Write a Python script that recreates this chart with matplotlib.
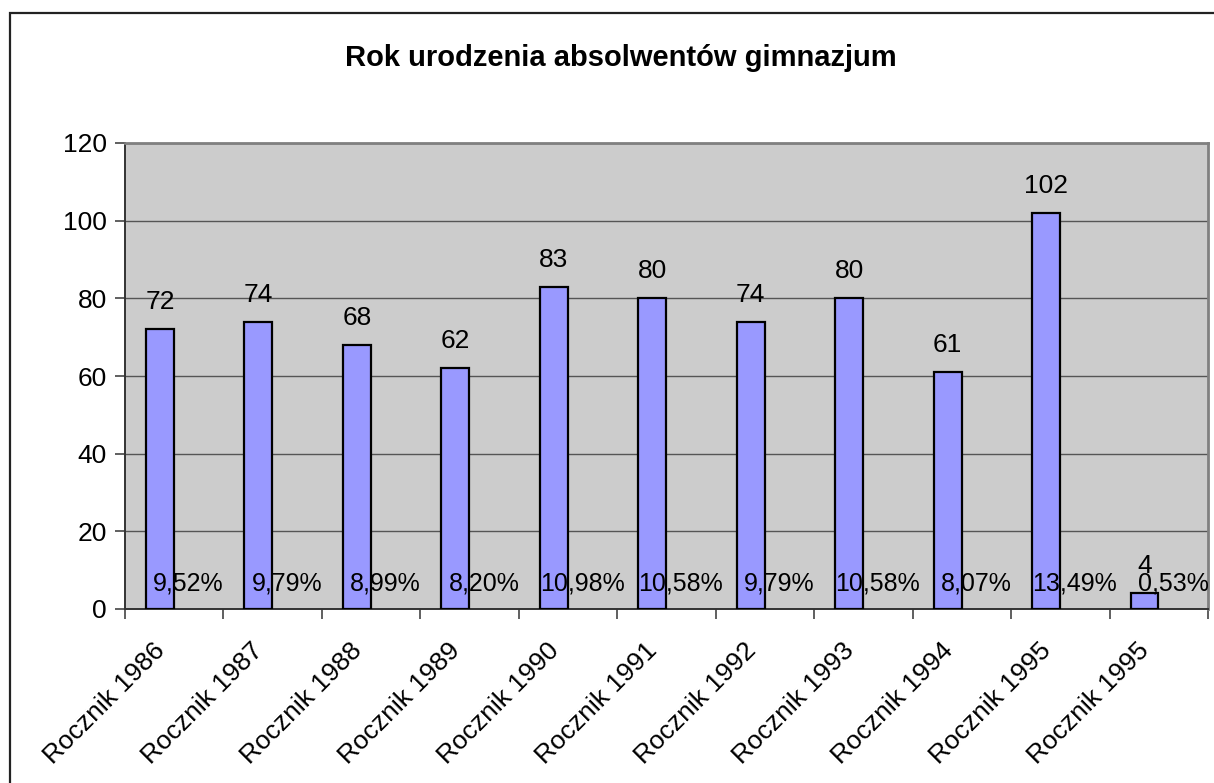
import matplotlib
matplotlib.use("Agg")
import matplotlib.pyplot as plt
from matplotlib.patches import Rectangle
from matplotlib.transforms import ScaledTranslation
import numpy as np

categories = ["Rocznik 1986", "Rocznik 1987", "Rocznik 1988", "Rocznik 1989", "Rocznik 1990",
              "Rocznik 1991", "Rocznik 1992", "Rocznik 1993", "Rocznik 1994", "Rocznik 1995",
              "Rocznik 1995"]
counts = [72, 74, 68, 62, 83, 80, 74, 80, 61, 102, 4]
percents = ["9,52%", "9,79%", "8,99%", "8,20%", "10,98%", "10,58%", "9,79%", "10,58%",
            "8,07%", "13,49%", "0,53%"]
yticks = [0, 20, 40, 60, 80, 100, 120]

plt.rcParams['font.family'] = ['Liberation Sans', 'DejaVu Sans']

W, H = 1214, 783
fig = plt.figure(figsize=(W / 100, H / 100), dpi=100)
fig.patch.set_facecolor('white')

# outer chart border (left and top visible)
fig.add_artist(Rectangle((10 / W, -0.1), 1.2, 1 - 13 / H + 0.1, transform=fig.transFigure,
                         fill=False, edgecolor='#222222', linewidth=1.6))

ax = fig.add_axes([125 / W, 1 - 609 / H, (1208 - 125) / W, (609 - 143) / H])
ax.set_facecolor('#CCCCCC')

n = len(categories)
x = np.arange(n)
bw = 0.284
off = 0.145
ax.bar(x - off, counts, width=bw, color='#9999FF', edgecolor='black', linewidth=1.6, zorder=3)

for xi, v in zip(x, counts):
    ax.annotate(str(v), (xi - off, v), xytext=(0, 19.5), textcoords='offset points',
                ha='center', va='center', fontsize=19, color='black', zorder=4)
for xi, p in zip(x, percents):
    ax.annotate(p, (xi + off, 0), xytext=(0, 18), textcoords='offset points',
                ha='center', va='center', fontsize=18, color='black', zorder=4)

ax.set_xlim(-0.5, n - 0.5)
ax.set_ylim(0, 120)
ax.set_yticks(yticks)
ax.set_yticklabels([str(t) for t in yticks], fontsize=19)
ax.yaxis.grid(True, color='#555555', linewidth=1.0, zorder=1)
ax.set_axisbelow(True)

# category labels (rotated), drawn as text in axis coordinates
ax.set_xticks(x)
ax.set_xticklabels([])
ax.tick_params(axis='x', length=0)
lab_tr = ax.get_xaxis_transform() + ScaledTranslation(-9.4 / 72, -27.5 / 72, fig.dpi_scale_trans)
for xi, c in zip(x, categories):
    ax.text(xi, 0, c, transform=lab_tr, fontsize=19, rotation=45, ha='right', va='center',
            rotation_mode='anchor', clip_on=False)

ax.set_xticks(np.arange(n + 1) - 0.5, minor=True)
ax.tick_params(axis='x', which='minor', length=7, width=1.2, color='#444444', direction='out')
ax.tick_params(axis='y', length=7, width=1.2, color='#444444', direction='out', pad=6)

for s in ['left', 'bottom']:
    ax.spines[s].set_color('#333333')
    ax.spines[s].set_linewidth(1.4)
for s in ['top', 'right']:
    ax.spines[s].set_color('#808080')
    ax.spines[s].set_linewidth(2)

fig.text(621 / W, 1 - 58 / H, "Rok urodzenia absolwentów gimnazjum", ha='center', va='center',
         fontsize=21, fontweight='bold')

fig.savefig("out.png", dpi=100)
